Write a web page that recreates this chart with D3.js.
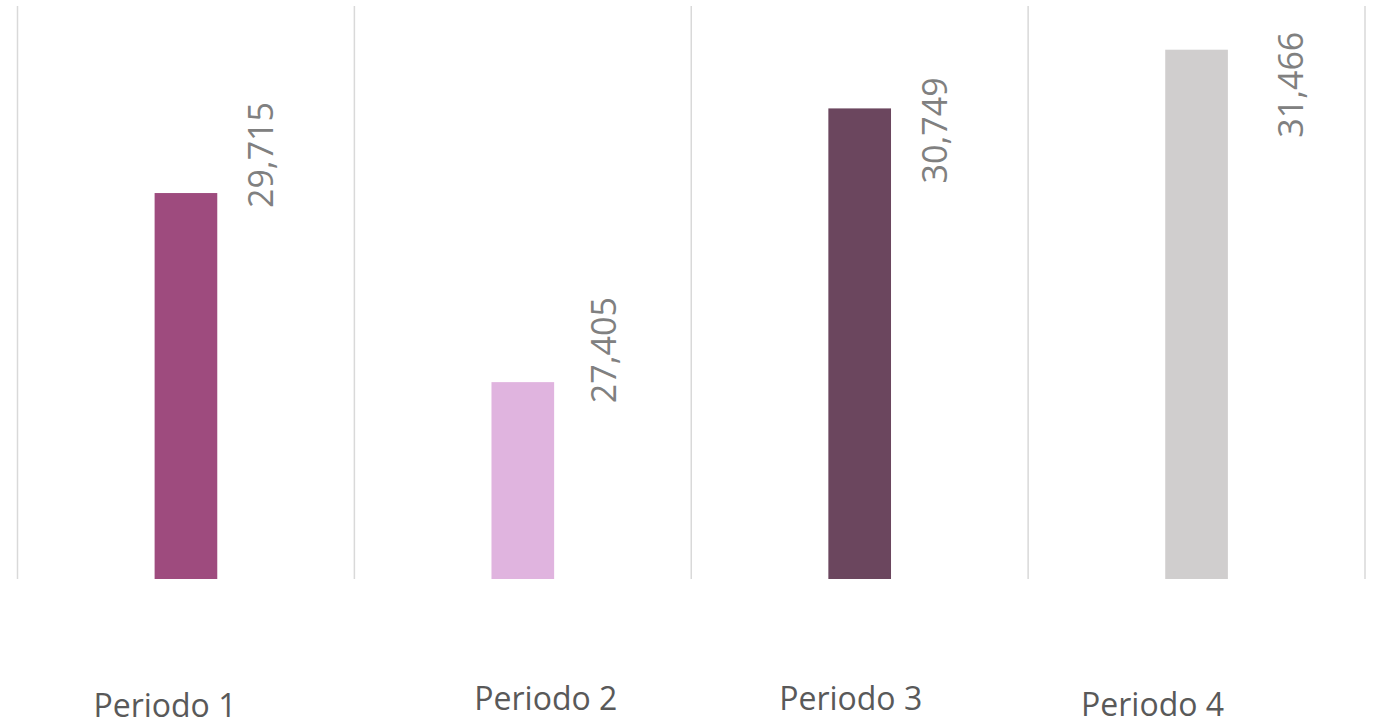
<!DOCTYPE html>
<html>
<head>
<meta charset="utf-8">
<script src="https://cdn.jsdelivr.net/npm/d3@7"></script>
<style>
  html, body { margin: 0; padding: 0; background: #fff; }
  svg { display: block; }
</style>
</head>
<body>
<svg id="chart" width="1380" height="726"></svg>
<script>
// ---- data ----
const categories = ["Periodo 1", "Periodo 2", "Periodo 3", "Periodo 4"];
const values = [29715, 27405, 30749, 31466];
const barColors = ["#9e4b7e", "#e0b4df", "#6b465e", "#d0cece"];
const yDomain = [25000, 32000];

// ---- layout (not data) ----
const labelShift = [[75, 15], [81, 21], [75, 75], [94, 88]];   // [dx from bar centre, dy below bar top]
const catShift = [[-21, 717], [23, 710], [-9, 710], [-44, 716]]; // [dx from bar centre, baseline y]

const svg = d3.select("#chart");
const x = d3.scaleBand().domain(categories).range([17.5, 1365]).paddingInner(0).paddingOuter(0);
const y = d3.scaleLinear().domain(yDomain).range([579, 6]);
const barW = x.bandwidth() * 0.186;
const fmt = d3.format(",");

// vertical gridlines at category boundaries
const bounds = categories.map(c => x(c)).concat([x.range()[1]]);
svg.append("g").selectAll("line").data(bounds).join("line")
  .attr("x1", d => d).attr("x2", d => d)
  .attr("y1", y(yDomain[1])).attr("y2", y(yDomain[0]))
  .attr("stroke", "#d9d9d9").attr("stroke-width", 1.5);

// bars
svg.append("g").selectAll("rect").data(values).join("rect")
  .attr("x", (d, i) => x(categories[i]) + (x.bandwidth() - barW) / 2)
  .attr("width", barW)
  .attr("y", d => y(d))
  .attr("height", d => y(yDomain[0]) - y(d))
  .attr("fill", (d, i) => barColors[i]);

// data labels (rotated)
svg.append("g").selectAll("text").data(values).join("text")
  .attr("transform", (d, i) => {
    const cx = x(categories[i]) + x.bandwidth() / 2 + labelShift[i][0];
    const cy = y(d) + labelShift[i][1];
    return `translate(${cx},${cy}) rotate(-90)`;
  })
  .attr("dy", "0.36em")
  .attr("text-anchor", "start")
  .attr("font-family", "'Open Sans', sans-serif")
  .attr("font-size", 34)
  .attr("fill", "#808080")
  .text(d => fmt(d));

// category labels
svg.append("g").selectAll("text").data(categories).join("text")
  .attr("x", (c, i) => x(c) + x.bandwidth() / 2 + catShift[i][0])
  .attr("y", (c, i) => catShift[i][1])
  .attr("text-anchor", "middle")
  .attr("font-family", "'Open Sans', sans-serif")
  .attr("font-size", 32)
  .attr("fill", "#595959")
  .text(c => c);
</script>
</body>
</html>
